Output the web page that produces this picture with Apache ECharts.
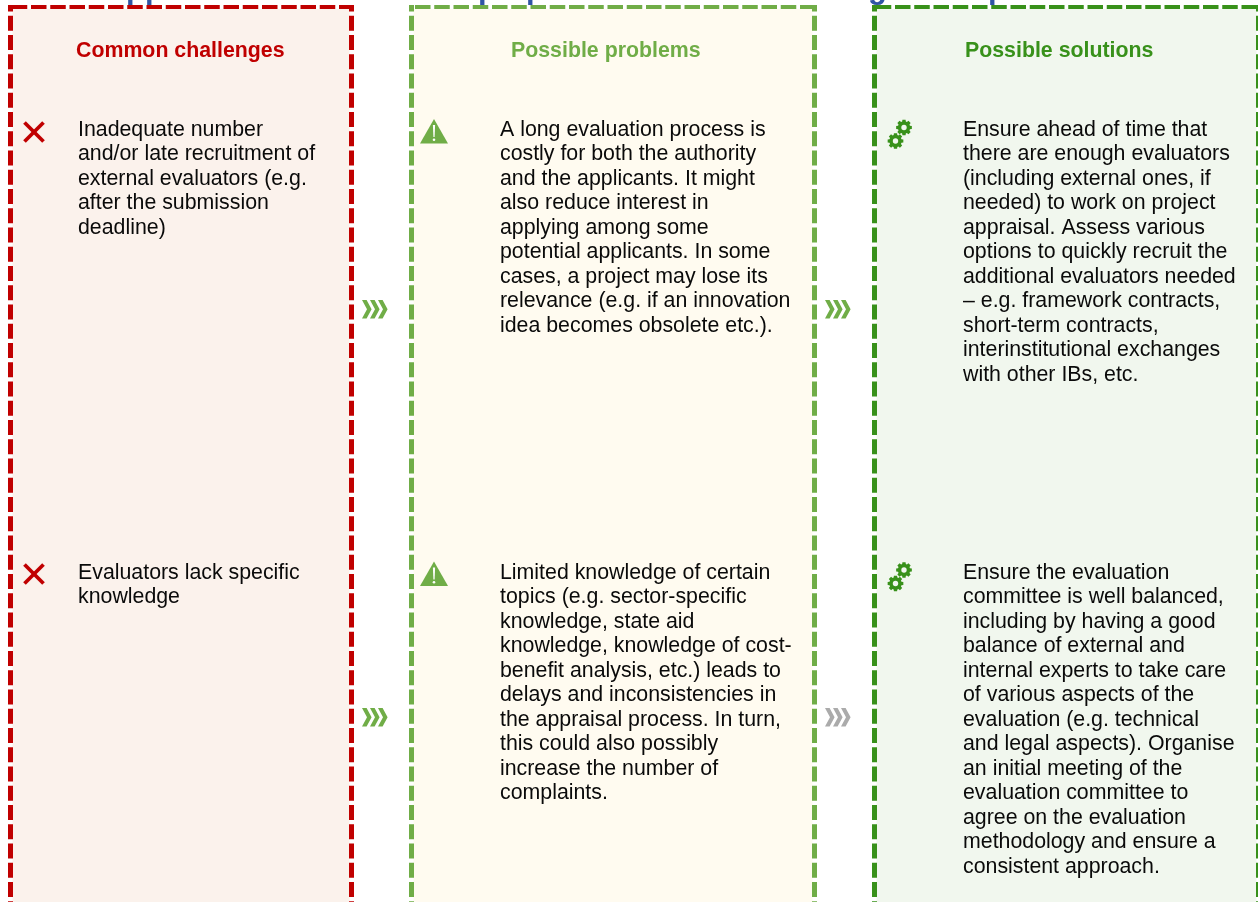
<!DOCTYPE html>
<html>
<head>
<meta charset="utf-8">
<style>
  html, body { margin: 0; padding: 0; background: #fff; }
  #main { width: 1258px; height: 902px; }
</style>
<script src="https://cdn.jsdelivr.net/npm/echarts@6/dist/echarts.min.js"></script>
</head>
<body>
<div id="main"></div>
<script>
// column headings
var titles = ['Common challenges', 'Possible problems', 'Possible solutions'];

// first row, one entry per printed line
var challengeA = ['Inadequate number', 'and/or late recruitment of', 'external evaluators (e.g.', 'after the submission', 'deadline)'];
var problemA = ['A long evaluation process is', 'costly for both the authority', 'and the applicants. It might', 'also reduce interest in', 'applying among some', 'potential applicants. In some', 'cases, a project may lose its', 'relevance (e.g. if an innovation', 'idea becomes obsolete etc.).'];
var solutionA = ['Ensure ahead of time that', 'there are enough evaluators', '(including external ones, if', 'needed) to work on project', 'appraisal. Assess various', 'options to quickly recruit the', 'additional evaluators needed', '– e.g. framework contracts,', 'short-term contracts,', 'interinstitutional exchanges', 'with other IBs, etc.'];

// second row
var challengeB = ['Evaluators lack specific', 'knowledge'];
var problemB = ['Limited knowledge of certain', 'topics (e.g. sector-specific', 'knowledge, state aid', 'knowledge, knowledge of cost-', 'benefit analysis, etc.) leads to', 'delays and inconsistencies in', 'the appraisal process. In turn,', 'this could also possibly', 'increase the number of', 'complaints.'];
var solutionB = ['Ensure the evaluation', 'committee is well balanced,', 'including by having a good', 'balance of external and', 'internal experts to take care', 'of various aspects of the', 'evaluation (e.g. technical', 'and legal aspects). Organise', 'an initial meeting of the', 'evaluation committee to', 'agree on the evaluation', 'methodology and ensure a', 'consistent approach.'];

// what is left of the cut off heading above the boxes
var cutHeading = ['pp', 'p', 'p', 'g', 'p'];
var cutHeadingX = [126, 478, 526, 868, 988];

var RED = '#C00000', GREEN = '#70AD47', DARK = '#38911A', GREY = '#ABABAB';
var FONT = '"Liberation Sans", Arial, sans-serif';
var W = 1258, H = 902;
var els = [];

function hline(x1, x2, y, color) {
  els.push({
    type: 'line',
    shape: { x1: x1, y1: y, x2: x2, y2: y },
    style: { stroke: color, lineWidth: 4, lineDash: [15.5, 3.75] }
  });
}

function vline(x, y1, y2, color) {
  els.push({
    type: 'line',
    shape: { x1: x, y1: y1, x2: x, y2: y2 },
    style: { stroke: color, lineWidth: 5, lineDash: [15, 4.25], lineDashOffset: 8.5 }
  });
}

function panel(left, right, fill, color, topStart) {
  // fill stops at the inner edge of the border, gaps stay white
  els.push({
    type: 'rect',
    shape: { x: left + 2, y: 9, width: right - left - 4, height: H },
    style: { fill: fill }
  });
  hline(topStart, right + 2, 7, color);
  vline(left, 5, H, color);
  vline(right, 5, H, color);
}

function label(str, x, y, color, bold) {
  els.push({
    type: 'text',
    x: x,
    y: y,
    style: {
      text: str,
      fill: color,
      font: (bold ? 'bold ' : '') + '21.33px ' + FONT,
      verticalAlign: 'middle'
    }
  });
}

function para(lines, x, y) {
  lines.forEach(function (s, i) {
    label(s, x, y + i * 24.5, '#0a0a0a');
  });
}

function cross(cx, cy) {
  [[-9.5, -9.5, 9.5, 9.5], [-9.5, 9.5, 9.5, -9.5]].forEach(function (p) {
    els.push({
      type: 'line',
      shape: { x1: cx + p[0], y1: cy + p[1], x2: cx + p[2], y2: cy + p[3] },
      style: { stroke: RED, lineWidth: 3.8 }
    });
  });
}

function warning(cx, top) {
  els.push({
    type: 'polygon',
    shape: { points: [[cx, top], [cx + 14, top + 24.5], [cx - 14, top + 24.5]] },
    style: { fill: GREEN }
  });
  els.push({
    type: 'polygon',
    shape: { points: [[cx - 1.1, top + 6], [cx + 1.1, top + 6], [cx + 0.6, top + 18], [cx - 0.6, top + 18]] },
    style: { fill: '#fff' }
  });
  els.push({
    type: 'circle',
    shape: { cx: cx, cy: top + 20.8, r: 1.3 },
    style: { fill: '#fff' }
  });
}

function gear(cx, cy, bg) {
  var pts = [];
  var n = 8;
  for (var i = 0; i < n; i++) {
    var a = i * Math.PI * 2 / n;
    [[-0.3, 6.2], [-0.2, 8], [0.2, 8], [0.3, 6.2]].forEach(function (t) {
      pts.push([cx + t[1] * Math.cos(a + t[0]), cy + t[1] * Math.sin(a + t[0])]);
    });
  }
  els.push({ type: 'polygon', shape: { points: pts }, style: { fill: DARK } });
  els.push({ type: 'circle', shape: { cx: cx, cy: cy, r: 2.7 }, style: { fill: bg } });
}

function chevrons(x, y, color) {
  for (var i = 0; i < 3; i++) {
    var o = x + i * 8;
    els.push({
      type: 'polygon',
      shape: { points: [[o, y], [o + 4.6, y], [o + 9.6, y + 9.2], [o + 4.6, y + 18.4], [o, y + 18.4], [o + 5, y + 9.2]] },
      style: { fill: color }
    });
  }
}

// cut off heading goes first so the box borders sit over it
cutHeading.forEach(function (s, i) {
  els.push({
    type: 'text',
    x: cutHeadingX[i],
    y: -11,
    style: { text: s, fill: '#2F55A4', font: 'bold 31px ' + FONT, verticalAlign: 'middle' }
  });
});

panel(10.5, 351.5, '#FBF2EC', RED, 11.75);
panel(411.5, 814.5, '#FFFBF0', GREEN, 415);
panel(874.5, 1258.5, '#F1F7EE', DARK, 875.75);

label(titles[0], 76, 51, RED, true);
label(titles[1], 511, 51, GREEN, true);
label(titles[2], 965, 51, DARK, true);

para(challengeA, 78, 130);
para(problemA, 500, 130);
para(solutionA, 963, 130);
para(challengeB, 78, 573);
para(problemB, 500, 573);
para(solutionB, 963, 573);

cross(34, 132);
cross(34, 574);
warning(434, 119);
warning(434, 561.5);
[0, 442.5].forEach(function (dy) {
  gear(904, 127.5 + dy, '#F1F7EE');
  gear(895.5, 141 + dy, '#F1F7EE');
});

chevrons(362, 300, GREEN);
chevrons(825, 300, GREEN);
chevrons(362, 708, GREEN);
chevrons(825, 708, GREY);

var chart = echarts.init(document.getElementById('main'));
chart.setOption({
  backgroundColor: '#fff',
  animation: false,
  graphic: { elements: els }
});
</script>
</body>
</html>
